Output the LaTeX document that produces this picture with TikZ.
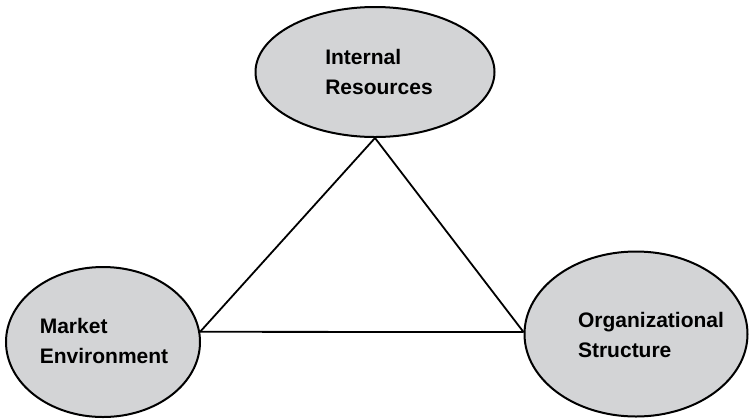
\documentclass[tikz,border=0pt]{standalone}
\usepackage{fontspec}
\setsansfont{Liberation Sans}
\usepackage{tikz}
\usetikzlibrary{shapes,positioning,calc}

\definecolor{ovalgray}{RGB}{211,212,214}

\begin{document}
\begin{tikzpicture}[
    x=0.5pt, y=-0.5pt,
    oval/.style={ellipse, draw, fill=ovalgray, line width=1pt, inner sep=0pt},
    caption/.style={align=left, font=\sffamily\bfseries\fontsize{10.5}{15}\selectfont, inner sep=0pt},
    line/.style={draw, line width=0.9pt}
]
    \useasboundingbox (0,0) rectangle (750,419);

    % Ovals
    \node [oval, minimum width=119.5pt, minimum height=65pt] (resources) at (375,72) {};
    \node [oval, minimum width=97pt, minimum height=75pt] (market) at (103,342) {};
    \node [oval, minimum width=111.5pt, minimum height=82.5pt] (structure) at (636,334) {};

    % Captions
    \node [caption] (resourcestext) at ($(resources)+(4,0)$) {Internal\\Resources};
    \node [caption] (markettext) at ($(market)+(1,-1)$) {Market\\Environment};
    \node [caption] (structuretext) at ($(structure)+(15,1)$) {Organizational\\Structure};

    % Connections
    \draw [line] (resources.south) -- (market.6);
    \draw [line] (market.6) -- (structure.179);
    \draw [line] (structure.179) -- (resources.south);
\end{tikzpicture}
\end{document}
